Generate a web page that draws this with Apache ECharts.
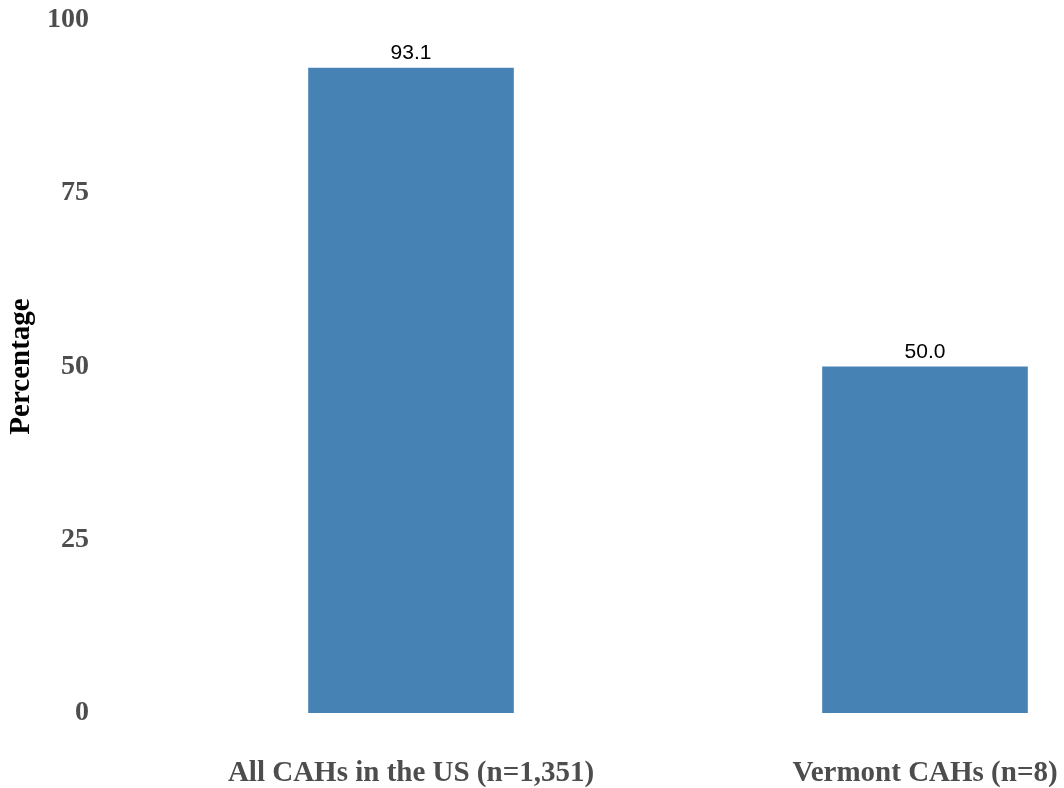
<!DOCTYPE html>
<html>
<head>
<meta charset="utf-8">
<script src="https://cdn.jsdelivr.net/npm/echarts@6/dist/echarts.min.js"></script>
<style>
  html, body { margin: 0; padding: 0; background: #fff; }
  #chart { width: 1064px; height: 788px; }
</style>
</head>
<body>
<div id="chart"></div>
<script>
// data
const categories = ['All CAHs in the US (n=1,351)', 'Vermont CAHs (n=8)'];
const percentages = [93.1, 50.0];
const yTicks = [0, 25, 50, 75, 100];

const chart = echarts.init(document.getElementById('chart'));

const serifBold = {
  fontFamily: '"Liberation Serif", "DejaVu Serif", serif',
  fontWeight: 'bold'
};

chart.setOption({
  animation: false,
  // plot panel runs past the right edge, like the cropped source
  grid: {
    left: 154, top: 20, right: -118, bottom: 75,
    containLabel: false, outerBoundsMode: 'none'
  },
  xAxis: {
    type: 'category',
    data: categories,
    axisLine: { show: false },
    axisTick: { show: false },
    axisLabel: {
      interval: 0, hideOverlap: false,
      margin: 46, fontSize: 29, color: '#4d4d4d', ...serifBold
    }
  },
  yAxis: {
    type: 'value',
    min: 0,
    max: 100,
    interval: 25,
    splitLine: { show: false },
    axisLine: { show: false },
    axisTick: { show: false },
    axisLabel: {
      margin: 65, fontSize: 28, color: '#4d4d4d', ...serifBold,
      padding: [5, 0, 0, 0],
      formatter: v => yTicks.includes(v) ? String(v) : ''
    },
    name: 'Percentage',
    nameLocation: 'middle',
    nameGap: 114,
    nameTextStyle: { fontSize: 29, color: '#000', ...serifBold }
  },
  series: [{
    type: 'bar',
    data: percentages,
    barWidth: '40%',
    itemStyle: { color: '#4682b4' },
    label: {
      show: true,
      position: 'top',
      distance: 4,
      formatter: p => p.value.toFixed(1),
      fontSize: 21,
      color: '#000',
      fontFamily: '"Liberation Sans", Arial, sans-serif'
    }
  }]
});
</script>
</body>
</html>
